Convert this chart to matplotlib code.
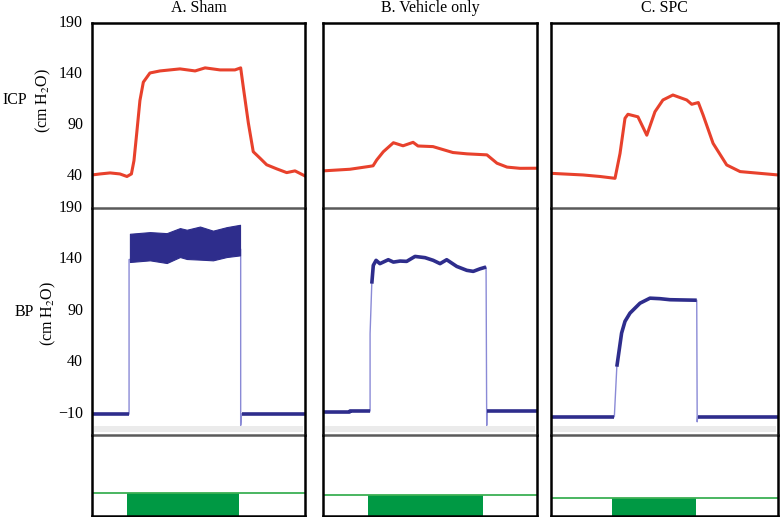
import matplotlib
matplotlib.use("Agg")
import matplotlib.pyplot as plt

plt.rcParams['font.family'] = ['Liberation Serif', 'DejaVu Serif']
plt.rcParams['mathtext.fontset'] = 'stix'

# ---- data (time in % of the recording window, values in cm H2O) ----
titles = ['A. Sham', 'B. Vehicle only', 'C. SPC']

icp_t_a = [0, 3.8, 8.5, 13.1, 16.4, 18.5, 19.7, 21.0, 22.5, 24.1, 27.2, 31.9, 36.6, 41.3, 48.4,
           53.1, 60.1, 67.1, 69.8, 71.0, 73.4, 75.7, 78.9, 82.0, 86.7, 91.4, 95.3, 100]
icp_v_a = [41, 42, 43, 42, 39.5, 42, 55, 82, 114, 132, 141, 143, 144, 145, 143,
           146, 144, 144, 146, 127.6, 92, 63.8, 57.4, 51, 47, 43.3, 45, 40]

icp_t_b = [0, 12.6, 20.4, 22.0, 23.4, 25.1, 28.2, 32.9, 37.4, 42.1, 44.4, 51.4, 60.7, 67.3,
           76.6, 81.3, 86.0, 92.1, 100]
icp_v_b = [45, 46.6, 49, 49.5, 50, 55.7, 63.8, 72.6, 69.6, 73, 69.4, 68.8, 63, 61.7,
           60.7, 52.5, 48.7, 47.5, 47.6]

icp_t_c = [0, 14.1, 21.6, 28.2, 30.4, 32.6, 33.9, 38.3, 42.2, 45.8, 49.3, 53.7, 59.8, 62.0,
           64.9, 67.0, 71.4, 77.4, 83.3, 100]
icp_v_c = [42.6, 41, 39.5, 37.7, 62, 96.6, 100.5, 98, 80, 103, 114.5, 119.4, 114.5, 110.3,
           112, 99.8, 72, 50.8, 44.3, 41]

# BP traces: baseline, rise, plateau, fall, baseline
bp_t_a = [0, 17.4, 17.4, 69.8, 69.8, 70.2, 100]
bp_v_a = [-10, -10, 140, 150, -21, -10, -10]
# Sham plateau is a dense band, given by its envelopes
band_t_a = [17.8, 27.2, 35.1, 41.3, 44.5, 50.7, 56.8, 63.2, 69.5]
band_hi_a = [165, 166.6, 165.6, 170.5, 168.9, 172, 168, 171.4, 173.7]
band_lo_a = [137.6, 139.2, 136.6, 142.4, 140.5, 139.9, 139.2, 142.4, 144]

bp_t_b = [0, 12.4, 12.6, 22.0, 22.0, 22.8, 23.5, 24.8, 26.6, 30.5, 32.9, 36.0, 39.1, 43.0,
          47.7, 51.5, 54.7, 57.8, 62.5, 67.2, 70.2, 73.4, 76.2, 76.5, 76.6, 100]
bp_v_b = [-8, -8, -7, -7, 68, 116.6, 134.3, 139.2, 136, 139.8, 137.5, 138.5, 138.2, 143,
          141.8, 139.2, 136, 139.8, 133.3, 129.5, 128.5, 131, 132.7, -21, -7, -7]

bp_t_c = [0, 27.9, 29.0, 31.1, 32.6, 34.8, 39.2, 43.6, 48.0, 52.4, 56.8, 64.2, 64.4, 64.6, 100]
bp_v_c = [-12.6, -12.6, 36, 68.6, 80, 88, 97.6, 102.5, 102, 101, 100.8, 100.5, -17.5, -12.6, -12.6]

# index ranges where the BP trace is drawn thick, per column
bp_thick = [[(0, 2), (5, 7)], [(0, 4), (5, 23), (24, 26)], [(0, 2), (2, 12), (13, 15)]]

# stimulus (green) on/off window and level
stim_on = [16.4, 21.0, 26.9]
stim_off = [69.0, 74.8, 63.9]
stim_level = [0.28, 0.256, 0.22]

icp_ticks = [40, 90, 140, 190]
bp_ticks = [-10, 40, 90, 140, 190]

icp_t = [icp_t_a, icp_t_b, icp_t_c]
icp_v = [icp_v_a, icp_v_b, icp_v_c]
bp_t = [bp_t_a, bp_t_b, bp_t_c]
bp_v = [bp_v_a, bp_v_b, bp_v_c]

# ---- layout ----
W, H = 781, 517
fig = plt.figure(figsize=(W / 100, H / 100), dpi=100)
cols_px = [(92, 305), (323, 537), (551, 778)]
rows_px = [(23, 208), (208, 435), (435, 516)]

red = '#e8412c'
navy = '#2e2d8c'
thin_blue = '#8a8ad6'
green_fill = '#009944'
green_line = '#3cb054'
sep = '#5a5a5a'
fs = 11.5

for c, (x0, x1) in enumerate(cols_px):
    axes = []
    for r, (y0, y1) in enumerate(rows_px):
        ax = fig.add_axes([x0 / W, 1 - y1 / H, (x1 - x0) / W, (y1 - y0) / H])
        ax.patch.set_visible(False)  # keep separators from being covered
        ax.set_xlim(0, 100)
        ax.set_xticks([])
        ax.set_yticks([])
        for s in ax.spines.values():
            s.set_color('black')
            s.set_linewidth(1.8)
        axes.append(ax)
    ax_icp, ax_bp, ax_st = axes

    # separators between the stacked panels
    ax_icp.spines['bottom'].set_color(sep)
    ax_icp.spines['bottom'].set_linewidth(1.8)
    ax_bp.spines['top'].set_visible(False)
    ax_bp.spines['bottom'].set_color(sep)
    ax_bp.spines['bottom'].set_linewidth(1.8)
    ax_st.spines['top'].set_visible(False)

    # ICP
    ax_icp.set_ylim(8.6, 190)
    ax_icp.plot(icp_t[c], icp_v[c], color=red, lw=2.2, solid_joinstyle='round')

    # BP
    ax_bp.set_ylim(-30.3, 190)
    ax_bp.axhspan(-27, -21.5, xmin=0.01, xmax=0.99, color='#ebebeb', lw=0, zorder=0)
    ax_bp.plot(bp_t[c], bp_v[c], color=thin_blue, lw=1.0)
    for i0, i1 in bp_thick[c]:
        ax_bp.plot(bp_t[c][i0:i1], bp_v[c][i0:i1], color=navy, lw=2.6,
                   solid_capstyle='butt', solid_joinstyle='round')
    if c == 0:
        ax_bp.fill_between(band_t_a, band_lo_a, band_hi_a, color=navy, lw=0.8, ec=navy, zorder=3)

    # stimulus
    ax_st.set_ylim(0, 1)
    lvl = stim_level[c]
    ax_st.axhline(lvl, color=green_line, lw=1.3)
    ax_st.fill_between([stim_on[c], stim_off[c]], 0, lvl, color=green_fill, lw=0)

    # column title
    fig.text((x0 + x1) / 2 / W, 1 - 8 / H, titles[c], ha='center', va='center', fontsize=fs)

    if c == 0:
        for v in icp_ticks:
            y = 1 - (23 + (190 - v) * 153 / 150) / H
            fig.text(83 / W, y, str(v), ha='right', va='center', fontsize=fs)
        for v in bp_ticks:
            y = 1 - (207.5 + (190 - v) * 1.0325) / H
            lab = '\u221210' if v < 0 else str(v)
            fig.text(83 / W, y, lab, ha='right', va='center', fontsize=fs)

fig.text(2 / W, 1 - 100 / H, 'ICP', ha='left', va='center', fontsize=fs)
fig.text(43 / W, 1 - 100 / H, r'(cm H$_2$O)', ha='center', va='center', rotation=90, fontsize=fs)
fig.text(15 / W, 1 - 312 / H, 'BP', ha='left', va='center', fontsize=fs)
fig.text(48 / W, 1 - 313 / H, r'(cm H$_2$O)', ha='center', va='center', rotation=90, fontsize=fs)

fig.savefig('out.png', dpi=100, facecolor='white')
